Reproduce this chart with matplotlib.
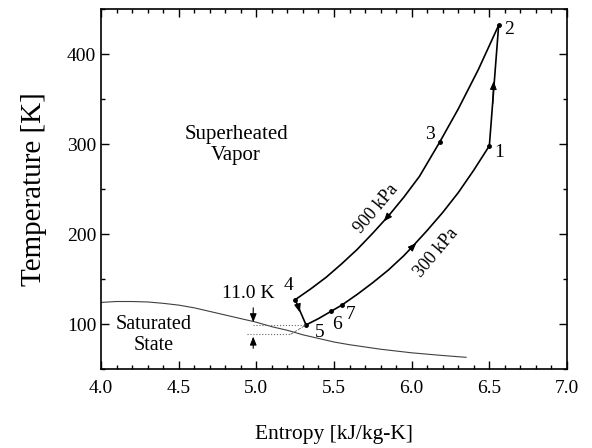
import matplotlib
matplotlib.use('Agg')
import matplotlib.pyplot as plt
from matplotlib.ticker import MultipleLocator

plt.rcParams['font.family'] = ['Liberation Serif', 'DejaVu Serif']
plt.rcParams['mathtext.fontset'] = 'stix'

# --- data ---
# 900 kPa isobar, state 4 -> 3 -> 2
s_900 = [5.25, 5.35, 5.45, 5.55, 5.65, 5.75, 5.85, 5.95, 6.05, 6.18, 6.30, 6.43, 6.56]
T_900 = [127, 139, 152, 167, 183, 201, 220, 241, 264, 302, 339, 383, 432]

# 300 kPa isobar, state 5 -> 6 -> 7 -> 1
s_300 = [5.32, 5.40, 5.48, 5.55, 5.65, 5.75, 5.85, 5.95, 6.01, 6.10, 6.20, 6.30, 6.40, 6.50]
T_300 = [99, 106, 114, 121, 133, 146, 160, 176, 187, 204, 224, 246, 271, 298]

# saturation line
s_sat = [4.0, 4.1, 4.2, 4.3, 4.4, 4.5, 4.6, 4.7, 4.8, 4.9, 5.0, 5.1, 5.2, 5.3, 5.4, 5.5, 5.6, 5.7, 5.8, 5.9, 6.0, 6.1, 6.2, 6.35]
T_sat = [124, 125, 125, 124.5, 123, 121, 118, 114, 110, 106, 102, 97, 93, 88, 84, 80, 77, 74.5, 72, 70, 68, 66.5, 65, 63]

# cycle states
states = ['1', '2', '3', '4', '5', '6', '7']
s_state = [6.50, 6.56, 6.18, 5.25, 5.32, 5.48, 5.55]
T_state = [298, 432, 302, 127, 99, 114, 121]
s_lab = [6.56, 6.63, 6.12, 5.21, 5.41, 5.52, 5.61]
T_lab = [291, 427, 311, 143, 91, 99, 111]

# 11.0 K approach marker
s_gap = 4.98
T_gap_top = 99
T_gap_bot = 88.5

fig = plt.figure(figsize=(5.92, 4.48), dpi=100)
ax = fig.add_axes([0.1706, 0.1763, 0.7872, 0.8036])

# lines
ax.plot(s_sat, T_sat, '-', color='0.25', linewidth=0.8)
ax.plot(s_900, T_900, '-', color='black', linewidth=1.2)
ax.plot(s_300, T_300, '-', color='black', linewidth=1.2)
ax.plot([s_state[0], s_state[1]], [T_state[0], T_state[1]], '-', color='black', linewidth=1.2)   # 1 -> 2
ax.plot([s_state[3], s_state[4]], [T_state[3], T_state[4]], '-', color='black', linewidth=1.2)   # 4 -> 5
ax.plot(s_state, T_state, 'o', color='black', markersize=2.5)

for lab, x, y in zip(states, s_lab, T_lab):
    ax.text(x, y, lab, fontsize=14, ha='center', va='center')

# flow direction arrows
arw = dict(arrowstyle='-|>,head_length=0.5,head_width=0.2', color='black', linewidth=0.8, shrinkA=0, shrinkB=0)
ax.annotate('', xy=(6.528, 370), xytext=(6.522, 345), arrowprops=arw)     # 1 -> 2
ax.annotate('', xy=(5.28, 113), xytext=(5.265, 122), arrowprops=arw)      # 4 -> 5
ax.annotate('', xy=(5.82, 214), xytext=(5.86, 222), arrowprops=arw)       # on 900 kPa
ax.annotate('', xy=(6.03, 190), xytext=(5.99, 183), arrowprops=arw)       # on 300 kPa

# 11.0 K pinch
ax.plot([s_gap, s_state[4]], [T_gap_top, T_gap_top], ':', color='0.4', linewidth=0.8)
ax.plot([4.94, 5.22], [T_gap_bot, T_gap_bot], ':', color='0.4', linewidth=0.8)
ax.plot([5.22, s_state[4]], [T_gap_bot, T_gap_top], '--', color='0.4', linewidth=0.6)
ax.annotate('', xy=(s_gap, 102), xytext=(s_gap, 118), arrowprops=arw)
ax.annotate('', xy=(s_gap, 86), xytext=(s_gap, 73), arrowprops=arw)
ax.text(4.95, 134, '11.0 K', fontsize=14, ha='center', va='center')

ax.text(5.77, 228, '900 kPa', fontsize=13, rotation=50, ha='center', va='center')
ax.text(6.16, 179, '300 kPa', fontsize=13, rotation=50, ha='center', va='center')
ax.text(4.87, 299, 'Superheated\nVapor', fontsize=15, ha='center', va='center', linespacing=1.1)
ax.text(4.34, 88, 'Saturated\nState', fontsize=14.5, ha='center', va='center', linespacing=1.1)

ax.set_xlim(4.0, 7.0)
ax.set_ylim(50, 450)
ax.xaxis.set_major_locator(MultipleLocator(0.5))
ax.xaxis.set_minor_locator(MultipleLocator(0.1))
ax.yaxis.set_major_locator(MultipleLocator(100))
ax.yaxis.set_minor_locator(MultipleLocator(50))
ax.xaxis.set_major_formatter(matplotlib.ticker.FormatStrFormatter('%.1f'))
ax.tick_params(which='both', direction='in', top=True, right=True, labelsize=14, width=1)
ax.tick_params(which='major', length=6)
ax.tick_params(which='minor', length=3)
ax.tick_params(axis='x', pad=8)
for sp in ax.spines.values():
    sp.set_linewidth(1.2)

ax.set_xlabel('Entropy [kJ/kg-K]', fontsize=15.5, labelpad=20)
ax.set_ylabel('Temperature [K]', fontsize=21, labelpad=14)

fig.savefig('out.png', dpi=100)
